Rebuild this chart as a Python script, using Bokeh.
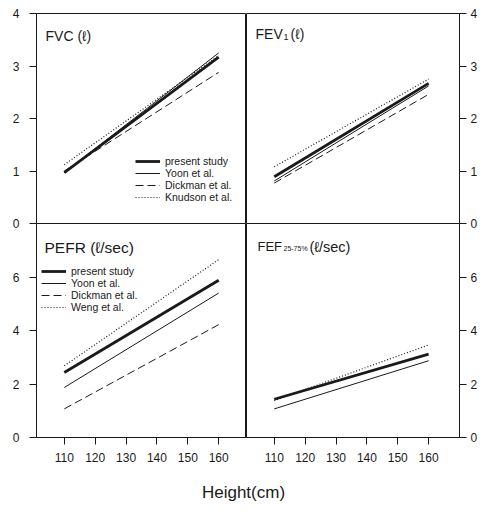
from bokeh.plotting import figure
from bokeh.layouts import column, row
from bokeh.models import Label, Legend, LegendItem, FixedTicker, Range1d
from bokeh.embed import file_html
from bokeh.resources import INLINE

# ---------------- data ----------------
heights = [110, 160]
x_ticks = [110, 120, 130, 140, 150, 160]

fvc_present = [0.97, 3.17]
fvc_yoon = [0.97, 3.25]
fvc_dickman = [1.00, 2.88]
fvc_knudson = [1.12, 3.20]

fev1_present = [0.89, 2.67]
fev1_yoon = [0.81, 2.62]
fev1_dickman = [0.77, 2.46]
fev1_knudson = [1.08, 2.75]

pefr_present = [2.43, 5.88]
pefr_yoon = [1.87, 5.40]
pefr_dickman = [1.07, 4.22]
pefr_weng = [2.68, 6.65]

fef_present = [1.43, 3.12]
fef_yoon = [1.07, 2.87]
fef_weng = [1.38, 3.46]

top_ticks = [0, 1, 2, 3, 4]
bottom_ticks = [0, 2, 4, 6]

FONT = "Liberation Sans"
INK = "#1a1a1a"

STYLES = {
    "present": dict(line_width=2.8, line_dash="solid"),
    "yoon": dict(line_width=1.0, line_dash="solid"),
    "dickman": dict(line_width=1.0, line_dash="8 4"),
    "dotted": dict(line_width=1.2, line_dash="1 2"),
}


def make_fig(width, height, xr, yr, side, show_x, mb):
    p = figure(width=width, height=height,
               x_range=Range1d(*xr), y_range=Range1d(*yr),
               output_backend="svg", toolbar_location=None,
               x_axis_location="below" if show_x else None,
               y_axis_location=side,
               min_border_left=mb[0], min_border_right=mb[1],
               min_border_top=mb[2], min_border_bottom=mb[3])
    p.grid.visible = False
    p.outline_line_color = INK
    p.outline_line_width = 1
    p.background_fill_color = "white"
    p.border_fill_color = "white"
    for ax in p.axis:
        ax.axis_line_color = INK
        ax.major_tick_line_color = INK
        ax.major_tick_out = 7
        ax.major_tick_in = 0
        ax.minor_tick_line_color = None
        ax.major_label_text_font = FONT
        ax.major_label_text_font_size = "12px"
        ax.major_label_text_color = INK
    return p


def add_lines(p, series):
    rends = {}
    for key, ys, style in series:
        rends[key] = p.line(heights, ys, line_color=INK, **STYLES[style])
    return rends


def add_text(p, text, x, y, size):
    p.add_layout(Label(x=x, y=y, x_units="screen", y_units="screen", text=text,
                       text_font=FONT, text_font_size=size, text_color=INK,
                       text_baseline="alphabetic", text_align="left"))


def add_legend(p, items, loc, gw, standoff):
    leg = Legend(items=[LegendItem(label=lab, renderers=[r]) for lab, r in items],
                 location=loc, background_fill_alpha=0, border_line_alpha=0,
                 label_text_font=FONT, label_text_font_size="10.5px",
                 label_text_color=INK, glyph_width=gw, glyph_height=12,
                 label_height=12, spacing=0, padding=0, margin=0,
                 label_standoff=standoff)
    p.add_layout(leg, "center")


XL = (101.0, 169.0)
XR = (101.0, 170.0)

# top-left: FVC
p1 = make_fig(246, 231, XL, (0, 4), "left", False, (36, 0, 13, 8))
p1.yaxis.ticker = FixedTicker(ticks=top_ticks)
p1.yaxis.major_label_standoff = 10
r1 = add_lines(p1, [("present", fvc_present, "present"), ("yoon", fvc_yoon, "yoon"),
                    ("dickman", fvc_dickman, "dickman"), ("knudson", fvc_knudson, "dotted")])
add_legend(p1, [("present study", r1["present"]), ("Yoon et al.", r1["yoon"]),
                ("Dickman et al.", r1["dickman"]), ("Knudson et al.", r1["knudson"])],
           (99, 20), 25, 5)
add_text(p1, "FVC (ℓ)", 9, 188, "14px")

# top-right: FEV1
p2 = make_fig(238, 231, XR, (0, 4), "right", False, (0, 25, 13, 8))
p2.yaxis.ticker = FixedTicker(ticks=top_ticks)
p2.yaxis.major_label_standoff = 4
add_lines(p2, [("present", fev1_present, "present"), ("yoon", fev1_yoon, "yoon"),
               ("dickman", fev1_dickman, "dickman"), ("knudson", fev1_knudson, "dotted")])
add_text(p2, "FEV", 9, 190, "14px")
add_text(p2, "1", 37, 187, "9px")
add_text(p2, "(ℓ)", 44, 190, "14px")

# bottom-left: PEFR
p3 = make_fig(246, 250, XL, (0, 8), "left", True, (36, 0, 0, 36))
p3.yaxis.ticker = FixedTicker(ticks=bottom_ticks)
p3.yaxis.major_label_standoff = 10
p3.xaxis.ticker = FixedTicker(ticks=x_ticks)
r3 = add_lines(p3, [("present", pefr_present, "present"), ("yoon", pefr_yoon, "yoon"),
                    ("dickman", pefr_dickman, "dickman"), ("weng", pefr_weng, "dotted")])
add_legend(p3, [("present study", r3["present"]), ("Yoon et al.", r3["yoon"]),
                ("Dickman et al.", r3["dickman"]), ("Weng et al.", r3["weng"])],
           (5, 124), 25, 5)
add_text(p3, "PEFR (ℓ/sec)", 8, 190, "15.5px")

# bottom-right: FEF25-75%
p4 = make_fig(238, 250, XR, (0, 8), "right", True, (0, 25, 0, 36))
p4.yaxis.ticker = FixedTicker(ticks=bottom_ticks)
p4.yaxis.major_label_standoff = 4
p4.xaxis.ticker = FixedTicker(ticks=x_ticks)
add_lines(p4, [("present", fef_present, "present"), ("yoon", fef_yoon, "yoon"),
               ("weng", fef_weng, "dotted")])
add_text(p4, "FEF", 11, 191, "13px")
add_text(p4, "25-75%", 37, 189, "7px")
add_text(p4, "(ℓ/sec)", 63, 191, "14.5px")

for p in (p3, p4):
    p.xaxis.major_label_standoff = 8
    p.border_fill_alpha = 0

# common x-axis title
pl = figure(width=484, height=40, output_backend="svg", toolbar_location=None,
            x_axis_location=None, y_axis_location=None, min_border=0,
            x_range=Range1d(0, 1), y_range=Range1d(0, 1))
pl.outline_line_color = None
pl.grid.visible = False
pl.add_layout(Label(x=243, y=21, x_units="screen", y_units="screen", text="Height(cm)",
                    text_font=FONT, text_font_size="17px", text_color=INK,
                    text_align="center", text_baseline="middle"))

top = row(p1, p2)
bottom = row(p3, p4, styles={"margin-top": "-8px"})
layout = column(top, bottom, pl)

open("out.html", "w").write(file_html(layout, INLINE))
